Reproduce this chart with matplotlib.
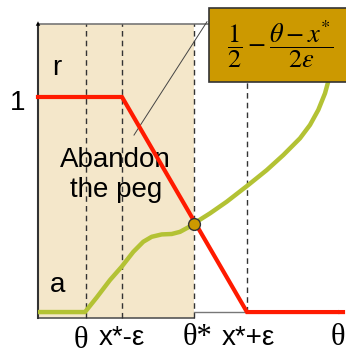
import numpy as np
import matplotlib
matplotlib.use("Agg")
import matplotlib.pyplot as plt
from matplotlib.patches import Rectangle

plt.rcParams['font.family'] = ['Liberation Sans', 'DejaVu Sans']
plt.rcParams['mathtext.fontset'] = 'stix'

# key positions on the theta axis
theta_low = 4.8        # theta
x_minus = 8.4          # x* - eps
theta_star = 15.6      # theta*
x_plus = 20.9          # x* + eps
x_end = 30.5

# r : fraction of attackers (red, piecewise linear)
r_x = [0, x_minus, x_plus, x_end]
r_y = [1, 1, 0, 0]

# a : the other curve (green)
a_x = [0, 4.7, 5.87, 7.2, 8.37, 9.53, 10.53, 11.37, 12.37, 13.37, 14.2, 15.03,
       15.7, 17.2, 18.87, 21.03, 22.87, 24.53, 26.2, 27.2, 28.03, 28.7, 29.2, 29.3]
a_y = [0, 0, 0.068, 0.149, 0.211, 0.280, 0.327, 0.350, 0.361, 0.363, 0.373,
       0.394, 0.415, 0.459, 0.513, 0.591, 0.660, 0.730, 0.808, 0.870, 0.940,
       1.017, 1.102, 1.135]
cross_y = 0.41

tick_pos = [theta_low - 0.5, x_minus, theta_star + 0.3, x_plus + 0.1, 30.0]
tick_lab = ['\u03b8', 'x*-\u03b5', '\u03b8*', 'x*+\u03b5', '\u03b8']

fig = plt.figure(figsize=(3.46, 3.54), dpi=100)
ax = fig.add_axes([0, 0, 1, 1])
ax.set_xlim(-3.8, 30.8)
ax.set_ylim(-0.195, 1.451)
ax.axis('off')

top = 1.34
bot = -0.028

# shaded region
ax.add_patch(Rectangle((0, bot), theta_star, top - bot, facecolor='#F4E7CA',
                       edgecolor='none', zorder=0))
ax.plot([0, theta_star], [bot, bot], color='#555555', lw=1.2, zorder=1)
ax.plot([0, 17.1], [top, top], color='#777777', lw=1.2, zorder=1)

# dashed guides
for xv in [theta_low, x_minus, theta_star]:
    ax.plot([xv, xv], [bot, top], color='#333333', lw=1, dashes=(4, 3), zorder=1)
ax.plot([x_plus, x_plus], [0, 1.07], color='#333333', lw=1, dashes=(4, 3), zorder=1)

# axes with arrows
ax.plot([theta_star, 30.4], [0, 0], color='#777777', lw=1, zorder=1)
ax.annotate('', xy=(30.8, 0), xytext=(30.0, 0),
            arrowprops=dict(arrowstyle='-|>', color='black', lw=0, mutation_scale=8))
ax.plot([0, 0], [bot, 1.33], color='#333333', lw=1.5, zorder=2)
ax.annotate('', xy=(0, 1.365), xytext=(0, 1.3),
            arrowprops=dict(arrowstyle='-|>', color='black', lw=0, mutation_scale=8))

# curves
ax.plot(a_x, a_y, color='#B3C234', lw=3.2, solid_capstyle='butt',
        solid_joinstyle='round', zorder=3)
ax.plot(r_x, r_y, color='#FF1A00', lw=3, solid_joinstyle='miter', zorder=4)
ax.plot([theta_star], [cross_y], 'o', ms=8.5, mfc='#CC9900', mec='#333333',
        mew=1, zorder=5)

# callout line and formula box
ax.plot([9.6, 16.9], [0.823, 1.35], color='#444444', lw=0.7, zorder=2)
ax.add_patch(Rectangle((17.1, 1.07), 14, 0.344, facecolor='#CC9900',
                       edgecolor='#333333', lw=1.2, zorder=6))
ax.text(24.2, 1.245, r'$\dfrac{1}{2}-\dfrac{\theta-x^{*}}{2\varepsilon}$',
        fontsize=19, ha='center', va='center', zorder=7)

# labels
ax.text(1.9, 1.102, 'r', fontsize=20, ha='center', va='baseline')
ax.text(-2.0, 0.94, '1', fontsize=20, ha='center', va='baseline')
ax.text(2.0, 0.093, 'a', fontsize=20, ha='center', va='baseline')
ax.text(7.7, 0.674, 'Abandon', fontsize=20, ha='center', va='baseline', zorder=3)
ax.text(7.8, 0.535, 'the peg', fontsize=20, ha='center', va='baseline', zorder=3)

for xv, lab in zip(tick_pos, tick_lab):
    yb = -0.165 if xv < theta_low else -0.153
    if lab in ('\u03b8', '\u03b8*'):
        ax.text(xv, yb, lab, fontsize=22, ha='center', va='baseline',
                family=['Liberation Serif'])
    else:
        ax.text(xv, yb, lab, fontsize=20, ha='center', va='baseline')

fig.savefig('out.png', dpi=100)
